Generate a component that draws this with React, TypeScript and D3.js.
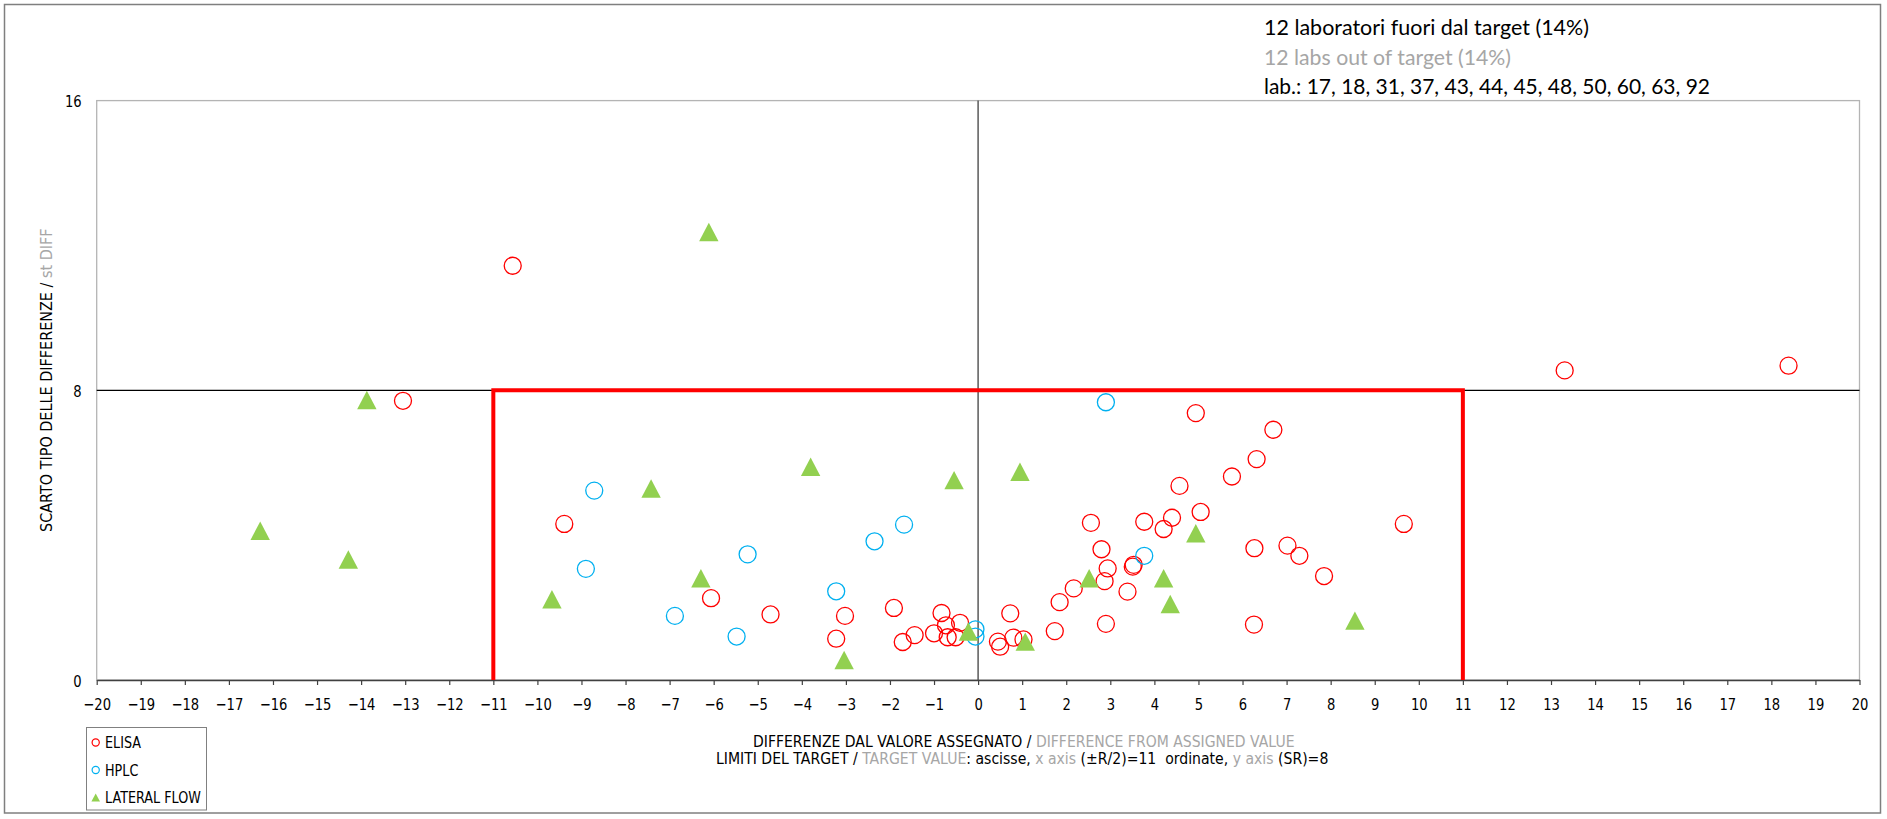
import React, { useEffect, useRef } from 'react'
import * as d3 from 'd3'

// [x, y] = [difference from assigned value, st diff]
const elisa: [number, number][] = [
  [-13.05, 7.71], [-10.56, 11.44], [-9.39, 4.31], [-6.06, 2.26], [-4.71, 1.81],
  [-3.02, 1.77], [-3.22, 1.14], [-1.91, 1.99], [-1.71, 1.05], [-1.44, 1.24],
  [-1.0, 1.29], [-0.83, 1.85], [-0.73, 1.51], [-0.69, 1.18], [-0.51, 1.18],
  [-0.41, 1.58], [0.45, 1.06], [0.5, 0.92], [0.73, 1.84], [0.8, 1.17],
  [1.03, 1.12], [1.74, 1.35], [1.85, 2.15], [2.17, 2.53], [2.56, 4.34],
  [2.8, 3.61], [2.87, 2.73], [2.94, 3.08], [2.9, 1.55], [3.39, 2.44],
  [3.51, 3.13], [3.53, 3.18], [3.77, 4.37], [4.21, 4.17], [4.4, 4.48],
  [4.57, 5.36], [4.94, 7.37], [5.05, 4.64], [5.76, 5.62], [6.26, 1.53],
  [6.27, 3.64], [6.32, 6.1], [6.7, 6.91], [7.02, 3.71], [7.29, 3.43],
  [7.85, 2.87], [9.66, 4.31], [13.31, 8.55], [18.39, 8.68]
]

const hplc: [number, number][] = [
  [-8.9, 3.07], [-8.71, 5.23], [-6.88, 1.77], [-5.48, 1.2], [-5.23, 3.47],
  [-3.22, 2.45], [-2.35, 3.83], [-1.68, 4.29], [-0.06, 1.4], [-0.06, 1.2],
  [2.9, 7.67], [3.77, 3.43]
]

const lateralFlow: [number, number][] = [
  [-16.29, 4.12], [-14.29, 3.33], [-13.87, 7.73], [-9.67, 2.23], [-7.42, 5.29],
  [-6.29, 2.81], [-6.11, 12.37], [-3.8, 5.89], [-3.04, 0.55], [-0.545, 5.52],
  [-0.22, 1.34], [0.95, 5.75], [1.07, 1.06], [2.52, 2.81], [4.21, 2.81],
  [4.36, 2.1], [4.94, 4.05], [8.55, 1.64]
]

const seriesNames = ['ELISA', 'HPLC', 'LATERAL FLOW']
const xTicks = d3.range(-20, 21)
const yTicks = [0, 8, 16]
const targetX = 11
const targetY = 8

const headerLines = [
  '12 laboratori fuori dal target (14%)',
  '12 labs out of target (14%)',
  'lab.: 17, 18, 31, 37, 43, 44, 45, 48, 50, 60, 63, 92'
]

const DARK = '#000'
const GREY = '#a6a6a6'

const xTitle1: [string, string][] = [
  ['DIFFERENZE DAL VALORE ASSEGNATO / ', DARK],
  ['DIFFERENCE FROM ASSIGNED VALUE', GREY]
]
const xTitle2: [string, string][] = [
  ['LIMITI DEL TARGET / ', DARK],
  ['TARGET VALUE', GREY],
  [': ascisse, ', DARK],
  ['x axis', GREY],
  [' (\u00B1R/2)=11\u00A0\u00A0ordinate, ', DARK],
  ['y axis', GREY],
  [' (SR)=8', DARK]
]
const yTitle: [string, string][] = [
  ['SCARTO TIPO DELLE DIFFERENZE / ', DARK],
  ['st DIFF', GREY]
]

const W = 1887
const H = 819
const FONT = "'DejaVu Sans', Tahoma, sans-serif"

const App = () => {
  const ref = useRef<SVGSVGElement>(null)

  useEffect(() => {
    const svg = d3.select(ref.current)
    svg.selectAll('*').remove()

    const x = d3.scaleLinear().domain([-20, 20]).range([96.7, 1859.5])
    const y = d3.scaleLinear().domain([0, 16]).range([680, 100.6])

    // squeeze DejaVu to look like the narrower Tahoma
    const condense = (sel: any, k: number) => {
      sel.each(function (this: SVGTextElement) {
        const len = this.getComputedTextLength()
        d3.select(this).attr('textLength', len * k).attr('lengthAdjust', 'spacingAndGlyphs')
      })
    }

    // outer frame
    svg.append('rect')
      .attr('x', 4.5).attr('y', 4.5)
      .attr('width', 1876).attr('height', 808.5)
      .attr('fill', '#fff').attr('stroke', '#7f7f7f').attr('stroke-width', 1.5)

    // header text
    headerLines.forEach((t, i) => {
      svg.append('text')
        .attr('x', 1264).attr('y', 35 + i * 29.5)
        .attr('font-family', "Lato, 'Liberation Sans', sans-serif")
        .attr('font-size', 21)
        .attr('fill', i === 1 ? GREY : DARK)
        .attr('textLength', [325, 247, 446][i])
        .attr('lengthAdjust', 'spacingAndGlyphs')
        .text(t)
    })

    const g = svg.append('g')

    // plot frame
    g.append('rect')
      .attr('x', x(-20)).attr('y', y(16))
      .attr('width', x(20) - x(-20)).attr('height', y(0) - y(16))
      .attr('fill', 'none').attr('stroke', '#b4b4b4').attr('stroke-width', 1.3)

    g.append('line')
      .attr('x1', x(-20)).attr('x2', x(20))
      .attr('y1', y(targetY)).attr('y2', y(targetY))
      .attr('stroke', '#000').attr('stroke-width', 1.2)

    g.append('line')
      .attr('x1', x(0)).attr('x2', x(0))
      .attr('y1', y(16)).attr('y2', y(0))
      .attr('stroke', '#595959').attr('stroke-width', 1.5)

    // x axis
    const ax = g.append('g')
      .attr('transform', `translate(0,${y(0)})`)
      .call(d3.axisBottom(x).tickValues(xTicks).tickSize(5).tickSizeOuter(0))
    ax.select('.domain').attr('stroke', '#404040').attr('stroke-width', 1.6)
    ax.selectAll('.tick line').attr('stroke', '#404040').attr('stroke-width', 1.2)
    ax.selectAll('.tick text')
      .attr('y', 29.5).attr('dy', 0)
      .attr('font-family', FONT).attr('font-size', 16).attr('fill', DARK)
    condense(ax.selectAll('.tick text'), 0.82)

    // y axis labels
    const ay = g.append('g')
      .attr('transform', `translate(${x(-20)},0)`)
      .call(d3.axisLeft(y).tickValues(yTicks).tickSize(0).tickPadding(15))
    ay.select('.domain').remove()
    ay.selectAll('.tick text')
      .attr('dy', '0.38em')
      .attr('font-family', FONT).attr('font-size', 16).attr('fill', DARK)
    condense(ay.selectAll('.tick text'), 0.82)

    // target limits
    const line = d3.line<[number, number]>().x(d => x(d[0])).y(d => y(d[1]))
    const target: [number, number][] = [[-targetX, 0], [-targetX, targetY], [targetX, targetY], [targetX, 0]]
    g.append('path')
      .attr('d', line(target))
      .attr('fill', 'none').attr('stroke', '#ff0000').attr('stroke-width', 4)

    // points
    g.append('g').selectAll('circle').data(elisa).enter().append('circle')
      .attr('cx', d => x(d[0])).attr('cy', d => y(d[1])).attr('r', 8.5)
      .attr('fill', 'none').attr('stroke', '#ff0000').attr('stroke-width', 1.3)

    g.append('g').selectAll('circle').data(hplc).enter().append('circle')
      .attr('cx', d => x(d[0])).attr('cy', d => y(d[1])).attr('r', 8.5)
      .attr('fill', 'none').attr('stroke', '#00b0f0').attr('stroke-width', 1.3)

    const tri = (s: number) => `M0,${-s * 0.95}L${s},${s * 0.95}L${-s},${s * 0.95}Z`
    g.append('g').selectAll('path').data(lateralFlow).enter().append('path')
      .attr('d', tri(9.7))
      .attr('transform', d => `translate(${x(d[0])},${y(d[1])})`)
      .attr('fill', '#92d050')

    // axis titles: coloured pieces, whole line squeezed horizontally to the target width
    const title = (parts: [string, string][], width: number, place: string) => {
      const t = svg.append('text').attr('font-family', FONT).attr('font-size', 15)
      parts.forEach(([s, c]) => t.append('tspan').attr('fill', c).text(s))
      const k = width / (t.node() as SVGTextElement).getComputedTextLength()
      t.attr('transform', `${place} scale(${k},1)`)
    }
    title(xTitle1, 542, 'translate(753,747)')
    title(xTitle2, 613, 'translate(716,764)')
    title(yTitle, 304, 'translate(52,532) rotate(-90)')

    // legend
    const lg = svg.append('g')
    lg.append('rect')
      .attr('x', 86.5).attr('y', 727.5).attr('width', 120).attr('height', 82.5)
      .attr('fill', '#fff').attr('stroke', '#808080').attr('stroke-width', 1)
    seriesNames.forEach((name, i) => {
      const cy = 742.5 + i * 27.5
      if (i < 2) {
        lg.append('circle').attr('cx', 95.7).attr('cy', cy).attr('r', 3.6)
          .attr('fill', 'none').attr('stroke', i === 0 ? '#ff0000' : '#00b0f0').attr('stroke-width', 1.2)
      } else {
        lg.append('path').attr('d', tri(4.3)).attr('transform', `translate(95.7,${cy})`).attr('fill', '#92d050')
      }
      const txt = lg.append('text')
        .attr('x', 105).attr('y', cy + 5.5)
        .attr('font-family', FONT).attr('font-size', 15).attr('fill', DARK)
        .text(name)
      condense(txt, 0.85)
    })
  }, [])

  return (
    <svg ref={ref} width={W} height={H}
      style={{ position: 'absolute', left: 0, top: 0, display: 'block', background: '#fff' }} />
  )
}

export default App
